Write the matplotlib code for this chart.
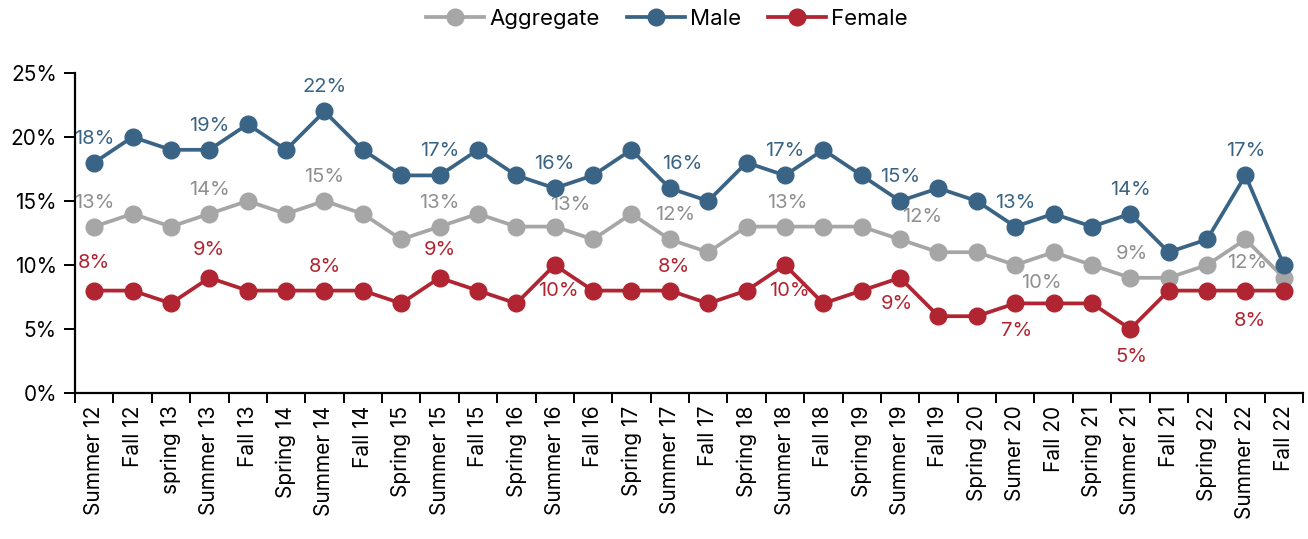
import numpy as np
import matplotlib.pyplot as plt
from matplotlib.ticker import FixedLocator, FuncFormatter

plt.rcParams['font.family'] = ['Inter', 'DejaVu Sans']

terms = ['Summer 12', 'Fall 12', 'spring 13', 'Summer 13', 'Fall 13', 'Spring 14',
         'Summer 14', 'Fall 14', 'Spring 15', 'Summer 15', 'Fall 15', 'Spring 16',
         'Summer 16', 'Fall 16', 'Spring 17', 'Summer 17', 'Fall 17', 'Spring 18',
         'Summer 18', 'Fall 18', 'Spring 19', 'Summer 19', 'Fall 19', 'Spring 20',
         'Sumer 20', 'Fall 20', 'Spring 21', 'Summer 21', 'Fall 21', 'Spring 22',
         'Summer 22', 'Fall 22']
aggregate = [13, 14, 13, 14, 15, 14, 15, 14, 12, 13, 14, 13, 13, 12, 14, 12,
             11, 13, 13, 13, 13, 12, 11, 11, 10, 11, 10, 9, 9, 10, 12, 9]
male = [18, 20, 19, 19, 21, 19, 22, 19, 17, 17, 19, 17, 16, 17, 19, 16,
        15, 18, 17, 19, 17, 15, 16, 15, 13, 14, 13, 14, 11, 12, 17, 10]
female = [8, 8, 7, 9, 8, 8, 8, 8, 7, 9, 8, 7, 10, 8, 8, 8,
          7, 8, 10, 7, 8, 9, 6, 6, 7, 7, 7, 5, 8, 8, 8, 8]

# labelled points: index -> (dx px, dy px)
male_lbl = {i: (0, 24) for i in range(0, 32, 3)}
male_lbl[15] = (12, 24)
agg_lbl = {0: (0, 24), 3: (0, 24), 6: (0, 24), 9: (0, 24), 12: (16, 22),
           15: (5, 24), 18: (2, 24), 21: (22, 22), 24: (26, -18),
           27: (2, 24), 30: (2, -24)}
fem_lbl = {0: (0, 28), 3: (0, 28), 6: (0, 24), 9: (0, 28), 12: (4, -26),
           15: (4, 24), 18: (4, -26), 21: (-3, -26), 24: (1, -28),
           27: (1, -28), 30: (4, -30)}

C_AGG = '#a6a6a6'
C_MALE = '#3a6485'
C_FEM = '#b02531'

fig = plt.figure(figsize=(13.08, 5.39), dpi=100)
ax = fig.add_axes([75 / 1308, 1 - 393 / 539, 1228 / 1308, 320 / 539])

x = np.arange(len(terms))
series = [('Aggregate', aggregate, C_AGG, '#8f8f8f', agg_lbl),
          ('Male', male, C_MALE, C_MALE, male_lbl),
          ('Female', female, C_FEM, C_FEM, fem_lbl)]
for name, vals, col, tcol, lbls in series:
    ax.plot(x, vals, color=col, lw=2.7, marker='o', ms=12, label=name, zorder=3)
    for i, (dx, dy) in lbls.items():
        ax.annotate(f'{vals[i]}%', (x[i], vals[i]), xytext=(dx * 0.72, dy * 0.72),
                    textcoords='offset points', ha='center', va='center',
                    color=tcol, fontsize=14.5)

ax.set_xlim(-0.5, len(terms) - 0.5)
ax.set_ylim(0, 25)
ax.set_yticks(range(0, 26, 5))
ax.yaxis.set_major_formatter(FuncFormatter(lambda v, p: f'{v:.0f}%'))
ax.set_xticks(x)
ax.set_xticklabels(terms, rotation=90, fontsize=15)
ax.tick_params(axis='x', length=0, pad=9)
ax.xaxis.set_minor_locator(FixedLocator(np.arange(-0.5, len(terms), 1)))
ax.tick_params(axis='x', which='minor', length=7, width=1.4)
ax.tick_params(axis='y', length=8, width=1.4, labelsize=15, pad=5)

for s in ['top', 'right']:
    ax.spines[s].set_visible(False)
for s in ['left', 'bottom']:
    ax.spines[s].set_linewidth(1.6)

fig.legend(loc='upper center', bbox_to_anchor=(0.51, 1.02), ncol=3, frameon=False,
           fontsize=16, handlelength=2.6, columnspacing=1.2, handletextpad=0.25)

fig.savefig('out.png', dpi=100)
